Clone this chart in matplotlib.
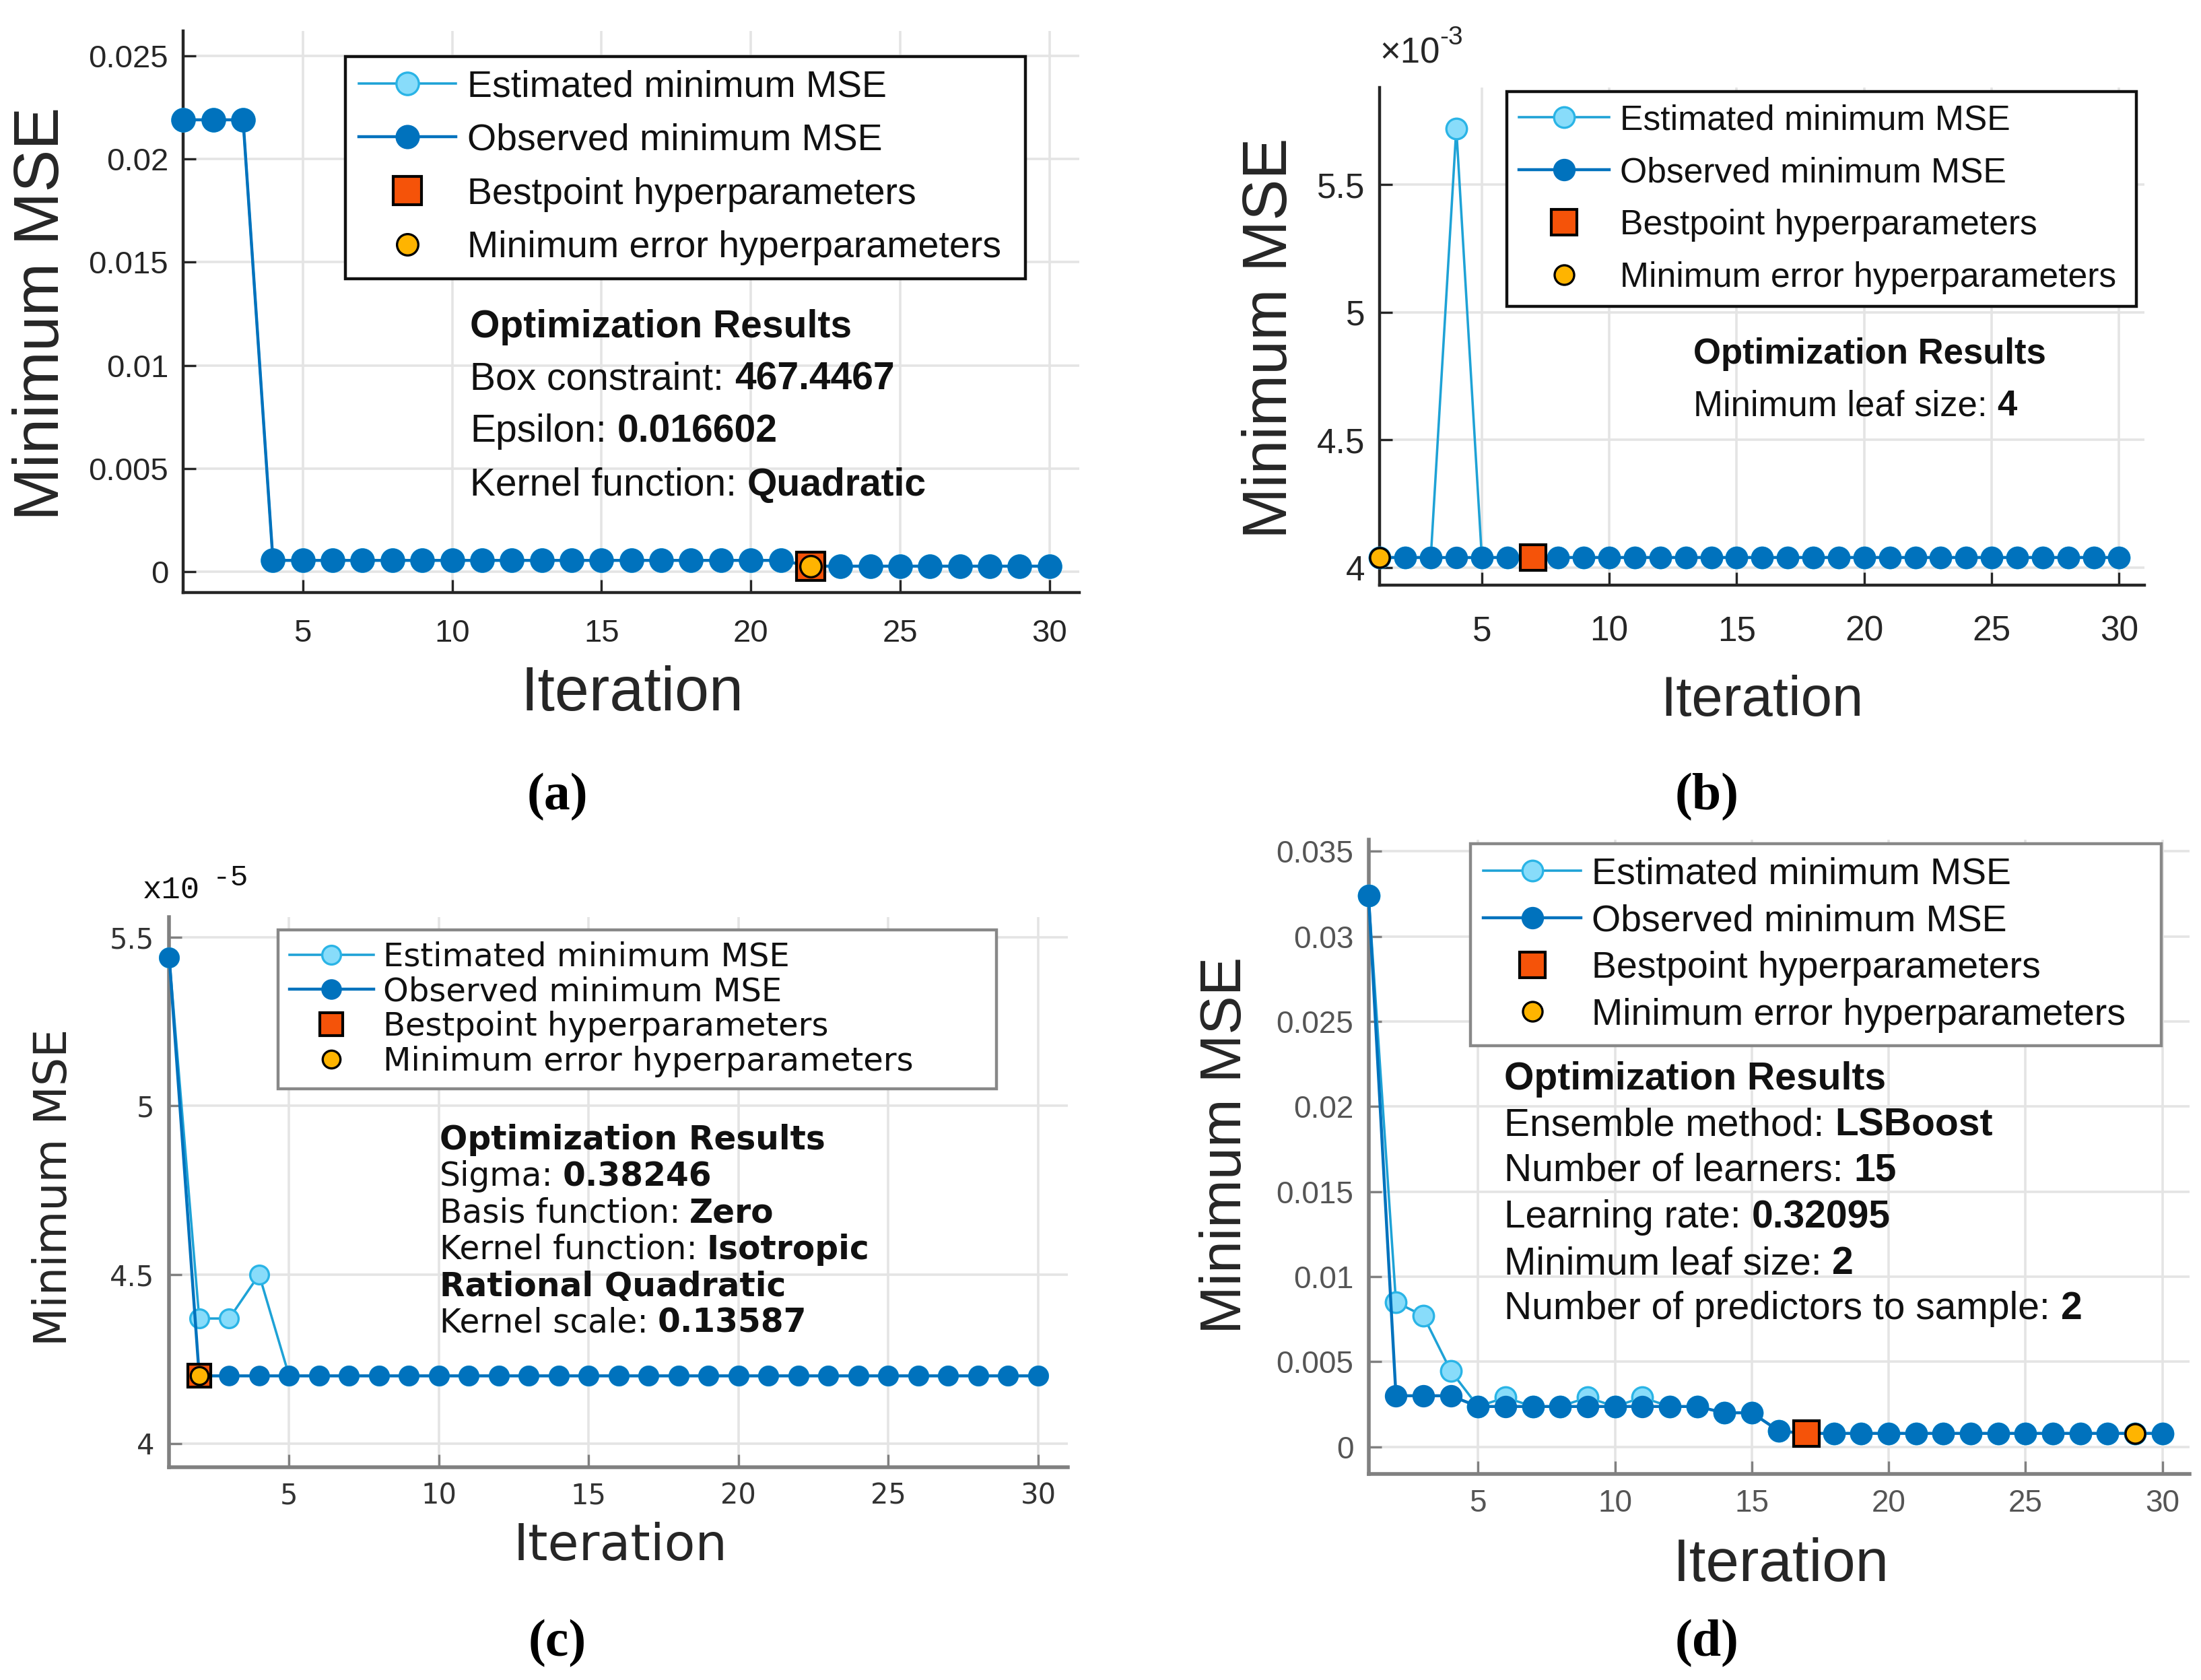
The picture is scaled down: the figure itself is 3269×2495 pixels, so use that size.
import matplotlib
matplotlib.use('Agg')
import matplotlib.pyplot as plt
from matplotlib.ticker import FuncFormatter

# colours taken from the figure (MATLAB bayesopt style)
EST_LINE = '#1ea2d6'
EST_FACE = '#88dcfa'
EST_EDGE = '#2ab4e6'
OBS = '#0072bd'
BEST = '#f55309'
MINC = '#ffb400'

iters = list(range(1, 31))

# (a) SVM
a_obs = [0.0219, 0.0219, 0.0219, 0.00055, 0.00055, 0.00055, 0.00055, 0.00055, 0.00055, 0.00055,
         0.00055, 0.00055, 0.00055, 0.00055, 0.00055, 0.00055, 0.00055, 0.00055, 0.00055, 0.00055,
         0.00055, 0.00027, 0.00027, 0.00027, 0.00027, 0.00027, 0.00027, 0.00027, 0.00027, 0.00027]
a_est = [0.0219, 0.0219, 0.0219, 0.00055, 0.00055, 0.00055, 0.00055, 0.00055, 0.00055, 0.00055,
         0.00055, 0.00055, 0.00055, 0.00055, 0.00055, 0.00055, 0.00055, 0.00055, 0.00055, 0.00055,
         0.00055, 0.00027, 0.00027, 0.00027, 0.00027, 0.00027, 0.00027, 0.00027, 0.00027, 0.00027]
a_best = (22, 0.00027)
a_min = (22, 0.00027)
a_yticks = [0, 0.005, 0.01, 0.015, 0.02, 0.025]
a_info = [('Box constraint:', '467.4467'), ('Epsilon:', '0.016602'), ('Kernel function:', 'Quadratic')]

# (b) tree
b_obs = [0.00404, 0.00404, 0.00404, 0.00404, 0.00404, 0.00404, 0.00404, 0.00404, 0.00404, 0.00404,
         0.00404, 0.00404, 0.00404, 0.00404, 0.00404, 0.00404, 0.00404, 0.00404, 0.00404, 0.00404,
         0.00404, 0.00404, 0.00404, 0.00404, 0.00404, 0.00404, 0.00404, 0.00404, 0.00404, 0.00404]
b_est = [0.00404, 0.00404, 0.00404, 0.00572, 0.00404, 0.00404, 0.00403, 0.00404, 0.00404, 0.00404,
         0.00404, 0.00404, 0.00404, 0.00404, 0.00404, 0.00404, 0.00404, 0.00404, 0.00404, 0.00404,
         0.00404, 0.00404, 0.00404, 0.00404, 0.00404, 0.00404, 0.00404, 0.00404, 0.00404, 0.00404]
b_best = (7, 0.00404)
b_min = (1, 0.00404)
b_yticks = [0.004, 0.0045, 0.005, 0.0055]
b_info = [('Minimum leaf size:', '4')]

# (c) GPR
c_obs = [5.44e-5, 4.2e-5, 4.2e-5, 4.2e-5, 4.2e-5, 4.2e-5, 4.2e-5, 4.2e-5, 4.2e-5, 4.2e-5,
         4.2e-5, 4.2e-5, 4.2e-5, 4.2e-5, 4.2e-5, 4.2e-5, 4.2e-5, 4.2e-5, 4.2e-5, 4.2e-5,
         4.2e-5, 4.2e-5, 4.2e-5, 4.2e-5, 4.2e-5, 4.2e-5, 4.2e-5, 4.2e-5, 4.2e-5, 4.2e-5]
c_est = [5.44e-5, 4.37e-5, 4.37e-5, 4.5e-5, 4.2e-5, 4.2e-5, 4.2e-5, 4.2e-5, 4.2e-5, 4.2e-5,
         4.2e-5, 4.2e-5, 4.2e-5, 4.2e-5, 4.2e-5, 4.2e-5, 4.2e-5, 4.2e-5, 4.2e-5, 4.2e-5,
         4.2e-5, 4.2e-5, 4.2e-5, 4.2e-5, 4.2e-5, 4.2e-5, 4.2e-5, 4.2e-5, 4.2e-5, 4.2e-5]
c_best = (2, 4.2e-5)
c_min = (2, 4.2e-5)
c_yticks = [4e-5, 4.5e-5, 5e-5, 5.5e-5]
c_info = [('Sigma:', '0.38246'), ('Basis function:', 'Zero'), ('Kernel function:', 'Isotropic'),
          ('', 'Rational Quadratic'), ('Kernel scale:', '0.13587')]

# (d) ensemble
d_obs = [0.0324, 0.0030, 0.0030, 0.0030, 0.00237, 0.00237, 0.00237, 0.00237, 0.00237, 0.00237,
         0.00237, 0.00237, 0.00237, 0.0020, 0.0020, 0.00092, 0.00079, 0.00079, 0.00079, 0.00079,
         0.00079, 0.00079, 0.00079, 0.00079, 0.00079, 0.00079, 0.00079, 0.00079, 0.00079, 0.00079]
d_est = [0.0324, 0.0085, 0.0077, 0.00447, 0.00237, 0.0029, 0.00237, 0.00237, 0.0029, 0.00237,
         0.0029, 0.00237, 0.00237, 0.0020, 0.0020, 0.00092, 0.00079, 0.00079, 0.00079, 0.00079,
         0.00079, 0.00079, 0.00079, 0.00079, 0.00079, 0.00079, 0.00079, 0.00079, 0.00079, 0.00079]
d_best = (17, 0.00079)
d_min = (29, 0.00079)
d_yticks = [0, 0.005, 0.01, 0.015, 0.02, 0.025, 0.03, 0.035]
d_info = [('Ensemble method:', 'LSBoost'), ('Number of learners:', '15'), ('Learning rate:', '0.32095'),
          ('Minimum leaf size:', '2'), ('Number of predictors to sample:', '2')]

legend_labels = ['Estimated minimum MSE', 'Observed minimum MSE',
                 'Bestpoint hyperparameters', 'Minimum error hyperparameters']


def draw_panel(ax, est, obs, best, mini, yticks, ylim, scale, s):
    fam = s['family']
    ax.set_xlim(1, 31)
    ax.set_ylim(*ylim)
    ax.grid(True, color='#e4e4e4', lw=1.3)
    ax.set_axisbelow(True)
    for side in ['top', 'right']:
        ax.spines[side].set_visible(False)
    for side in ['left', 'bottom']:
        ax.spines[side].set_color(s['axc'])
        ax.spines[side].set_linewidth(s['axw'])

    le, = ax.plot(iters, est, color=EST_LINE, lw=s['lw'] * 0.8, marker='o', ms=s['ms'],
                  mfc=EST_FACE, mec=EST_EDGE, mew=1.2, clip_on=False, zorder=3)
    lo, = ax.plot(iters, obs, color=OBS, lw=s['lw'], marker='o', ms=s['ms'],
                  mfc=OBS, mec=OBS, mew=1, clip_on=False, zorder=4)
    lb, = ax.plot([best[0]], [best[1]], ls='none', marker='s', ms=s['ms'] * 1.25,
                  mfc=BEST, mec='k', mew=1.5, clip_on=False, zorder=5)
    lm, = ax.plot([mini[0]], [mini[1]], ls='none', marker='o', ms=s['ms'] * 0.95,
                  mfc=MINC, mec='k', mew=1.2, clip_on=False, zorder=6)

    ax.set_xticks([5, 10, 15, 20, 25, 30])
    ax.set_yticks(yticks)
    ax.yaxis.set_major_formatter(FuncFormatter(lambda v, p: f'{round(v * scale, 6):g}'))
    ax.tick_params(direction='in', length=7, width=1.2, color=s['axc'], labelsize=s['tick'],
                   labelcolor=s['tickc'], pad=8)
    ax.tick_params(axis='x', pad=s['xpad'])
    for lab in ax.get_xticklabels() + ax.get_yticklabels():
        lab.set_family(fam)

    ax.set_xlabel('Iteration', fontsize=s['xl'], family=fam, color='#262626')
    ax.set_ylabel('Minimum MSE', fontsize=s['yl'], family=fam, color='#262626')
    ax.xaxis.set_label_coords(*s['xlpos'])
    ax.yaxis.set_label_coords(*s['ylpos'])

    x0, top, x1 = s['leg']
    leg = ax.legend([le, lo, lb, lm], legend_labels, loc='upper left',
                    bbox_to_anchor=(x0, top, x1 - x0, 0), mode='expand', borderaxespad=0,
                    prop={'family': fam, 'size': s['legfs']}, fancybox=False, framealpha=1,
                    edgecolor=s['legc'], handlelength=2.6, handletextpad=0.3,
                    labelspacing=s['legsp'], borderpad=0.35, numpoints=1)
    leg.get_frame().set_linewidth(1.6)
    for t in leg.get_texts():
        t.set_color('#111111')


def draw_info(ax, rows, s):
    fam = s['family']
    x = s['infox']
    ys = s['infoy']
    ax.text(x, ys[0], 'Optimization Results', transform=ax.transAxes, fontsize=s['infofs'],
            family=fam, fontweight='bold', va='center', color='#111111')
    for (k, v), y in zip(rows, ys[1:]):
        if k == '':
            ax.text(x, y, v, transform=ax.transAxes, fontsize=s['infofs'], family=fam,
                    fontweight='bold', va='center', color='#111111')
            continue
        t = ax.text(x, y, k, transform=ax.transAxes, fontsize=s['infofs'], family=fam,
                    va='center', color='#111111')
        ax.annotate(v, xy=(1, 0), xycoords=t, xytext=(s['infofs'] * 0.28, 0),
                    textcoords='offset points', va='bottom', ha='left', fontsize=s['infofs'],
                    family=fam, fontweight='bold', color='#111111')


fig = plt.figure(figsize=(3269 / 200, 2495 / 200), dpi=200)
fig.patch.set_facecolor('white')

ax_a = fig.add_axes([0.0833, 0.6474, 0.4071, 0.3341])
ax_b = fig.add_axes([0.6269, 0.6516, 0.3475, 0.2963])
ax_c = fig.add_axes([0.0769, 0.1268, 0.4084, 0.3274])
ax_d = fig.add_axes([0.6218, 0.1226, 0.3731, 0.3778])

sa = dict(family='Liberation Sans', axc='#262626', axw=1.6, tickc='#262626', lw=1.6, ms=12,
          tick=17, xpad=14, xl=33, yl=34, xlpos=(0.501, -0.13), ylpos=(-0.124, 0.497),
          leg=(0.181, 0.955, 0.940), legfs=20, legsp=0.5, legc='#111111',
          infofs=20.5, infox=0.320, infoy=[0.472, 0.379, 0.286, 0.191])
sb = dict(family='Liberation Sans', axc='#262626', axw=1.6, tickc='#262626', lw=1.6, ms=11,
          tick=18.5, xpad=16, xl=30, yl=33, xlpos=(0.5, -0.18), ylpos=(-0.105, 0.496),
          leg=(0.166, 0.9915, 0.989), legfs=18.6, legsp=0.56, legc='#111111',
          infofs=19, infox=0.41, infoy=[0.4646, 0.36])
sc = dict(family='DejaVu Sans', axc='#808080', axw=2.0, tickc='#333333', lw=1.6, ms=10,
          tick=15, xpad=8, xl=27, yl=24, xlpos=(0.502, -0.1), ylpos=(-0.104, 0.508),
          leg=(0.121, 0.977, 0.92), legfs=17.3, legsp=0.1, legc='#888888',
          infofs=17.5, infox=0.301, infoy=[0.595, 0.528, 0.462, 0.395, 0.328, 0.262])
sd = dict(family='Liberation Sans', axc='#808080', axw=2.0, tickc='#555555', lw=1.6, ms=11,
          tick=16.5, xpad=8, xl=32, yl=31, xlpos=(0.502, -0.1), ylpos=(-0.141, 0.518),
          leg=(0.124, 0.993, 0.9656), legfs=20, legsp=0.32, legc='#888888',
          infofs=20.5, infox=0.165, infoy=[0.622, 0.549, 0.478, 0.404, 0.331, 0.26])

draw_panel(ax_a, a_est, a_obs, a_best, a_min, a_yticks, (-0.001, 0.0262), 1, sa)
draw_info(ax_a, a_info, sa)
draw_panel(ax_b, b_est, b_obs, b_best, b_min, b_yticks, (0.00393, 0.00588), 1e3, sb)
draw_info(ax_b, b_info, sb)
draw_panel(ax_c, c_est, c_obs, c_best, c_min, c_yticks, (3.93e-5, 5.56e-5), 1e5, sc)
draw_info(ax_c, c_info, sc)
draw_panel(ax_d, d_est, d_obs, d_best, d_min, d_yticks, (-0.0016, 0.0357), 1, sd)
draw_info(ax_d, d_info, sd)

# exponent labels
t = ax_b.text(0.0, 1.035, '\u00d710', transform=ax_b.transAxes, fontsize=19,
              family='Liberation Sans', color='#262626', va='bottom')
ax_b.annotate('-3', xy=(1, 0.6), xycoords=t, va='bottom', ha='left', fontsize=14,
              family='Liberation Sans', color='#262626')
t = ax_c.text(-0.03, 1.022, 'x10', transform=ax_c.transAxes, fontsize=17,
              family='Liberation Mono', color='#111111', va='bottom')
ax_c.annotate('-5', xy=(1, 0.45), xycoords=t, xytext=(7, 0), textcoords='offset points',
              va='bottom', ha='left', fontsize=16, family='Liberation Mono', color='#111111')

# panel letters
for x, y, lab in [(0.2532, 0.5256, '(a)'), (0.7756, 0.5256, '(b)'),
                  (0.2532, 0.0218, '(c)'), (0.7756, 0.0218, '(d)')]:
    fig.text(x, y, lab, ha='center', va='center', fontsize=28, family='Liberation Serif',
             fontweight='bold')

fig.savefig('out.png', dpi=200, facecolor='white')
